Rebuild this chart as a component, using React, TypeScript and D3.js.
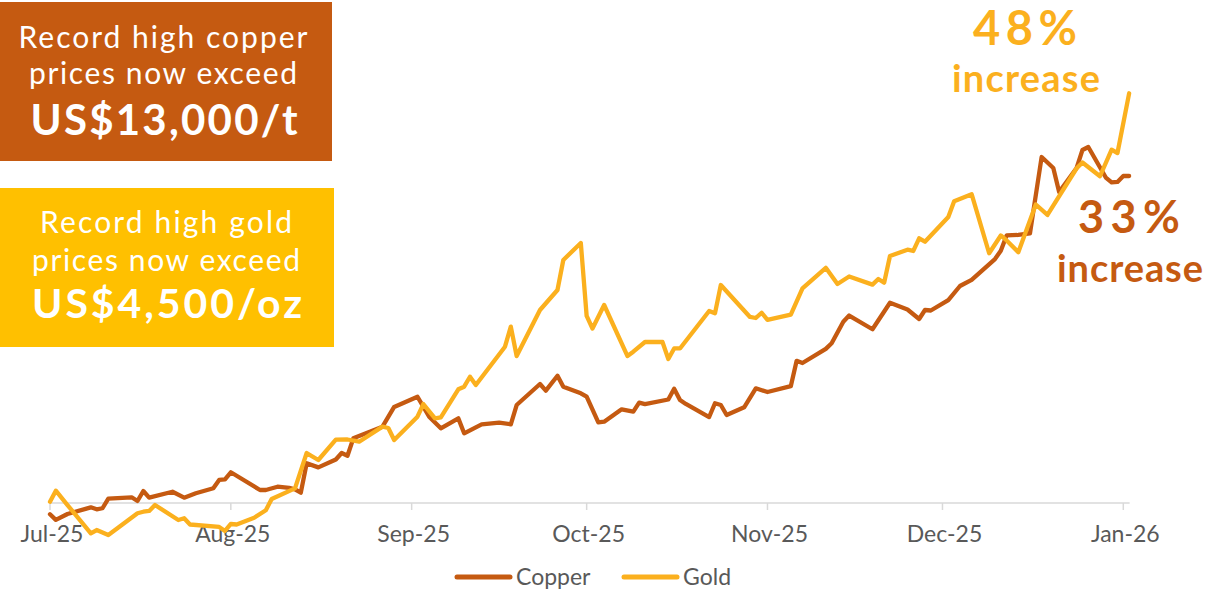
import React from "react";
import * as d3 from "d3";

// ---- Data (percent change since 1 Jul 2025) ----
const goldDates = [
  "2025-07-01","2025-07-02","2025-07-04","2025-07-08","2025-07-09","2025-07-11","2025-07-16","2025-07-17","2025-07-18","2025-07-19",
  "2025-07-23","2025-07-24","2025-07-25","2025-07-30","2025-07-31","2025-08-01","2025-08-02","2025-08-05","2025-08-07","2025-08-08",
  "2025-08-12","2025-08-14","2025-08-16","2025-08-19","2025-08-21","2025-08-23","2025-08-27","2025-08-28","2025-08-29","2025-09-02",
  "2025-09-03","2025-09-05","2025-09-06","2025-09-09","2025-09-10","2025-09-11","2025-09-12","2025-09-17","2025-09-18","2025-09-19",
  "2025-09-23","2025-09-26","2025-09-27","2025-09-30","2025-10-01","2025-10-02","2025-10-04","2025-10-08","2025-10-09","2025-10-11",
  "2025-10-14","2025-10-15","2025-10-16","2025-10-17","2025-10-22","2025-10-23","2025-10-24","2025-10-29","2025-10-30","2025-10-31",
  "2025-11-01","2025-11-05","2025-11-07","2025-11-11","2025-11-13","2025-11-15","2025-11-19","2025-11-20","2025-11-21","2025-11-22",
  "2025-11-25","2025-11-26","2025-11-27","2025-11-28","2025-12-02","2025-12-03","2025-12-06","2025-12-09","2025-12-11","2025-12-12",
  "2025-12-14","2025-12-17","2025-12-19","2025-12-24","2025-12-25","2025-12-28","2025-12-30","2025-12-31","2026-01-02",
];
const goldValues = [
  0, 1.29, -0.39, -3.71, -3.33, -3.91, -1.36, -1.18, -1.09, -0.39,
  -2.15, -1.95, -2.68, -2.97, -3.44, -2.62, -2.68, -1.89, -1.01, 0.32,
  1.57, 5.72, 4.9, 7.3, 7.31, 7.05, 8.82, 8.66, 7.25, 9.99,
  11.48, 9.8, 9.92, 13.21, 13.52, 14.69, 13.72, 18.22, 20.57, 17.12,
  22.53, 24.88, 28.41, 30.41, 21.83, 20.36, 23.12, 17.12, 17.63, 18.77,
  18.77, 16.77, 18.01, 18.01, 22.41, 22.14, 25.47, 21.71, 21.59, 22.21,
  21.36, 21.98, 25.08, 27.49, 25.59, 26.47, 25.51, 26.18, 25.74, 28.88,
  29.62, 29.47, 30.96, 30.56, 33.46, 35.32, 36.14, 29.2, 31.29, 30.7,
  29.33, 34.93, 33.7, 39.19, 39.87, 38.25, 41.37, 40.98, 48.0,
];

const copperDates = [
  "2025-07-01","2025-07-02","2025-07-04","2025-07-08","2025-07-09","2025-07-10","2025-07-11","2025-07-15","2025-07-16","2025-07-17",
  "2025-07-18","2025-07-22","2025-07-24","2025-07-26","2025-07-29","2025-07-30","2025-07-31","2025-08-01","2025-08-06","2025-08-07",
  "2025-08-09","2025-08-11","2025-08-12","2025-08-13","2025-08-14","2025-08-16","2025-08-19","2025-08-20","2025-08-21","2025-08-22",
  "2025-08-27","2025-08-29","2025-09-02","2025-09-04","2025-09-06","2025-09-09","2025-09-10","2025-09-13","2025-09-16","2025-09-18",
  "2025-09-19","2025-09-23","2025-09-24","2025-09-26","2025-09-27","2025-09-30","2025-10-01","2025-10-03","2025-10-04","2025-10-07",
  "2025-10-09","2025-10-10","2025-10-11","2025-10-15","2025-10-16","2025-10-17","2025-10-18","2025-10-22","2025-10-23","2025-10-24",
  "2025-10-25","2025-10-28","2025-10-30","2025-11-01","2025-11-05","2025-11-06","2025-11-07","2025-11-11","2025-11-12","2025-11-14",
  "2025-11-15","2025-11-19","2025-11-22","2025-11-25","2025-11-27","2025-11-28","2025-11-29","2025-12-02","2025-12-04","2025-12-06",
  "2025-12-10","2025-12-11","2025-12-12","2025-12-14","2025-12-16","2025-12-18","2025-12-20","2025-12-21","2025-12-24","2025-12-25",
  "2025-12-26","2025-12-29","2025-12-30","2025-12-31","2026-01-01","2026-01-02",
];
const copperValues = [
  0, -0.54, 0.03, 0.68, 0.49, 0.59, 1.52, 1.66, 1.3, 2.27,
  1.62, 2.2, 1.62, 2.05, 2.54, 3.35, 3.41, 4.1, 2.37, 2.37,
  2.69, 2.57, 2.44, 2.11, 4.98, 4.58, 5.35, 5.98, 5.71, 7.41,
  8.55, 10.47, 11.47, 9.52, 8.39, 9.36, 7.9, 8.78, 8.94, 8.78,
  10.66, 12.71, 12.06, 13.52, 12.45, 11.8, 11.47, 8.96, 9.03, 10.24,
  10.01, 10.89, 10.74, 11.2, 12.25, 11.15, 10.76, 9.49, 10.83, 10.66,
  9.69, 10.44, 12.29, 11.93, 12.5, 14.97, 14.76, 16.14, 16.68, 18.79,
  19.39, 18.05, 20.64, 19.98, 19.05, 19.93, 19.88, 20.9, 22.27, 22.86,
  24.9, 25.71, 27.2, 27.25, 27.41, 34.85, 33.78, 31.44, 33.78, 35.54,
  35.83, 32.85, 32.37, 32.42, 33.0, 33.0,
];

const tickDates = ["2025-07-01","2025-08-01","2025-09-01","2025-10-01","2025-11-01","2025-12-01","2026-01-01"];
const tickLabels = ["Jul-25","Aug-25","Sep-25","Oct-25","Nov-25","Dec-25","Jan-26"];
const seriesNames = ["Copper", "Gold"];
const goldIncrease = "48%";
const copperIncrease = "33%";

const COPPER = "#C55A11";
const GOLD = "#FBB01E";
const GOLD_BOX = "#FFC000";
const AXIS = "#D9D9D9";
const LABEL = "#595959";
const FONT = "Lato, 'Open Sans', sans-serif";

const parse = d3.timeParse("%Y-%m-%d");

export default function App() {
  const W = 1212, H = 589;
  const x = d3.scaleTime()
    .domain([parse("2025-07-01")!, parse("2026-01-01")!])
    .range([50, 1123.3]);
  const yGold = d3.scaleLinear().domain([0, 48]).range([501.7, 93.3]);
  const yCopper = d3.scaleLinear().domain([0, 33]).range([514.3, 176]);

  const goldData = goldDates.map((d, i) => ({ d: parse(d)!, v: goldValues[i] }));
  const copperData = copperDates.map((d, i) => ({ d: parse(d)!, v: copperValues[i] }));

  const goldLine = d3.line<{ d: Date; v: number }>().x(p => x(p.d)).y(p => yGold(p.v));
  const copperLine = d3.line<{ d: Date; v: number }>().x(p => x(p.d)).y(p => yCopper(p.v));

  const axisY = 503;
  const axisEnd = x(parse("2026-01-02")!) + 0.5;

  return (
    <svg width={W} height={H} style={{ position: "absolute", left: 0, top: 0, display: "block" }}
      fontFamily={FONT}>
      <rect x={0} y={0} width={W} height={H} fill="#ffffff" />

      {/* Info boxes */}
      <rect x={0} y={2} width={332} height={159} fill={COPPER} />
      <g fill="#ffffff" textAnchor="middle">
        <text x={163} y={48} fontSize={30} textLength={289} lengthAdjust="spacing">Record high copper</text>
        <text x={163} y={84} fontSize={30} textLength={268} lengthAdjust="spacing">prices now exceed</text>
        <text x={164} y={135} fontSize={42} fontWeight={700} textLength={267} lengthAdjust="spacing">US$13,000/t</text>
      </g>
      <rect x={0} y={188} width={334} height={159} fill={GOLD_BOX} />
      <g fill="#ffffff" textAnchor="middle">
        <text x={166} y={233} fontSize={30} textLength={252} lengthAdjust="spacing">Record high gold</text>
        <text x={166} y={271} fontSize={30} textLength={268} lengthAdjust="spacing">prices now exceed</text>
        <text x={167} y={318} fontSize={41} fontWeight={700} textLength={270} lengthAdjust="spacing">US$4,500/oz</text>
      </g>

      {/* Axis */}
      <line x1={50} x2={axisEnd} y1={axisY} y2={axisY} stroke={AXIS} strokeWidth={1.5} />
      {tickDates.map((t, i) => (
        <g key={t}>
          <line x1={x(parse(t)!)} x2={x(parse(t)!)} y1={axisY} y2={axisY + 7} stroke={AXIS} strokeWidth={1.5} />
          <text x={x(parse(t)!) + 2} y={541.5} fontSize={23} fill={LABEL} textAnchor="middle">{tickLabels[i]}</text>
        </g>
      ))}

      {/* Lines */}
      <path d={copperLine(copperData)!} fill="none" stroke={COPPER} strokeWidth={4.3}
        strokeLinejoin="round" strokeLinecap="round" />
      <path d={goldLine(goldData)!} fill="none" stroke={GOLD} strokeWidth={4.3}
        strokeLinejoin="round" strokeLinecap="round" />

      {/* Annotations */}
      <g textAnchor="middle" fontWeight={700}>
        <text x={1025} y={45} fontSize={47} fill={GOLD} textLength={104} lengthAdjust="spacing">{goldIncrease}</text>
        <text x={1026} y={92} fontSize={38} fill={GOLD} textLength={148} lengthAdjust="spacing">increase</text>
        <text x={1129} y={233} fontSize={45} fill={COPPER} textLength={102} lengthAdjust="spacing">{copperIncrease}</text>
        <text x={1130} y={282} fontSize={38} fill={COPPER} textLength={146} lengthAdjust="spacing">increase</text>
      </g>

      {/* Legend */}
      <line x1={457} x2={510} y1={577} y2={577} stroke={COPPER} strokeWidth={5} strokeLinecap="round" />
      <text x={516} y={585} fontSize={23} fill={LABEL}>{seriesNames[0]}</text>
      <line x1={624} x2={677} y1={577} y2={577} stroke={GOLD} strokeWidth={5} strokeLinecap="round" />
      <text x={683} y={585} fontSize={23} fill={LABEL}>{seriesNames[1]}</text>
    </svg>
  );
}
